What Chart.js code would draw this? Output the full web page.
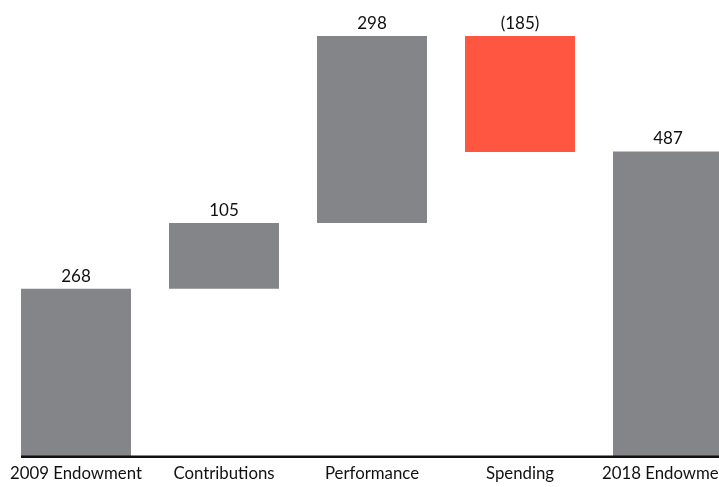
<!DOCTYPE html>
<html>
<head>
<meta charset="utf-8">
<script src="https://cdn.jsdelivr.net/npm/chart.js@4"></script>
<style>
  html, body { margin: 0; padding: 0; background: #fff; overflow: hidden; }
  #wrap { width: 745px; height: 495px; }
</style>
</head>
<body>
<div id="wrap"><canvas id="myChart"></canvas></div>
<script>
// endowment bridge 2009 -> 2018
var categories = ["2009 Endowment", "Contributions", "Performance", "Spending", "2018 Endowment"];
var changes = [268, 105, 298, -185, 487];
var valueLabels = ["268", "105", "298", "(185)", "487"];
var isTotal = [true, false, false, false, true];

// build floating bars from the changes
var ranges = [];
var running = 0;
for (var i = 0; i < changes.length; i++) {
  if (isTotal[i]) {
    ranges.push([0, changes[i]]);
    running = changes[i];
  } else {
    ranges.push([running, running + changes[i]]);
    running += changes[i];
  }
}
var colors = changes.map(function (v) { return v < 0 ? "#ff5641" : "#848589"; });

// value labels above each bar + base line starting at the first bar
var topLabels = {
  id: "topLabels",
  afterDatasetsDraw: function (chart) {
    var c = chart.ctx;
    var meta = chart.getDatasetMeta(0);
    var area = chart.chartArea;
    c.save();
    var first = meta.data[0];
    c.strokeStyle = "#111";
    c.lineWidth = 2.5;
    c.beginPath();
    c.moveTo(first.x - first.width / 2, area.bottom);
    c.lineTo(area.right, area.bottom);
    c.stroke();

    c.font = "17px Lato, 'Open Sans', sans-serif";
    c.fillStyle = "#111";
    c.textAlign = "center";
    c.textBaseline = "bottom";
    meta.data.forEach(function (bar, i) {
      var top = Math.min(bar.y, bar.base);
      c.fillText(valueLabels[i], bar.x, top - 4);
    });
    c.restore();
  }
};

var ctx = document.getElementById("myChart").getContext("2d");
var myChart = new Chart(ctx, {
  type: "bar",
  data: {
    labels: categories,
    datasets: [{
      data: ranges,
      backgroundColor: colors,
      borderWidth: 0,
      barPercentage: 1,
      categoryPercentage: 0.743
    }]
  },
  options: {
    responsive: true,
    maintainAspectRatio: false,
    animation: false,
    layout: { padding: { left: 2, right: 3, top: 16, bottom: 4 } },
    plugins: { legend: { display: false }, tooltip: { enabled: false } },
    scales: {
      x: {
        grid: { display: false, drawTicks: false },
        border: { display: false },
        ticks: {
          color: "#111",
          padding: 7,
          maxRotation: 0,
          autoSkip: false,
          font: { family: "Lato, 'Open Sans', sans-serif", size: 16.8 }
        }
      },
      y: {
        display: false,
        min: 0,
        max: 703
      }
    }
  },
  plugins: [topLabels]
});
</script>
</body>
</html>
